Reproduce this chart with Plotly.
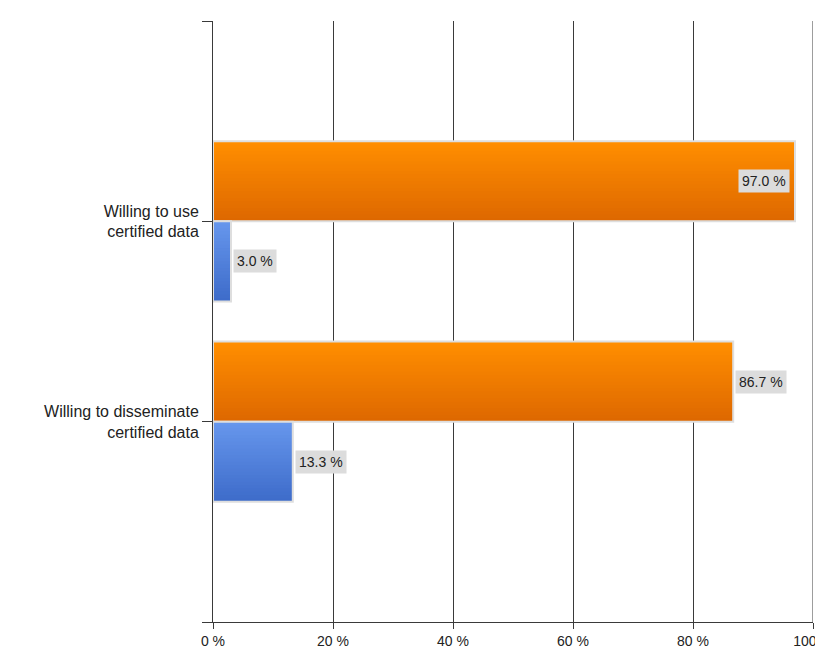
import plotly.graph_objects as go

# Survey results (percent of respondents)
categories = ["Willing to use<br>certified data", "Willing to disseminate<br>certified data"]
cat_pos = [2, 1]
yes_values = [97.0, 86.7]
no_values = [3.0, 13.3]
x_ticks = [0, 20, 40, 60, 80, 100]
x_tick_labels = ["0 %", "20 %", "40 %", "60 %", "80 %", "100 %"]

BAR_H = 0.4
N_LAYERS = 24
FONT = "Liberation Sans, Arial, sans-serif"
AXIS_COLOR = "#3a3a3a"


def lerp(c1, c2, t):
    return "rgb(%d,%d,%d)" % tuple(round(a + (b - a) * t) for a, b in zip(c1, c2))


def gradient_bars(values, base_offset, top_rgb, bottom_rgb, name):
    """Vertical gradient: stacked layers anchored at the bar top, each shorter and lighter."""
    traces = []
    for k in range(N_LAYERS):
        frac = 1 - k / N_LAYERS          # share of bar height covered by this layer
        t = 1 - k / (N_LAYERS - 1)       # 1 = bottom colour, 0 = top colour
        h = BAR_H * frac
        traces.append(go.Bar(
            y=cat_pos, x=values, orientation="h", name=name,
            width=h, offset=base_offset + BAR_H - h,
            marker=dict(color=lerp(top_rgb, bottom_rgb, t), line=dict(width=0)),
            showlegend=False, hoverinfo="skip",
        ))
    # light outline around each full bar
    traces.append(go.Bar(
        y=cat_pos, x=values, orientation="h", name=name,
        width=BAR_H, offset=base_offset,
        marker=dict(color="rgba(0,0,0,0)", line=dict(color="#dedede", width=2)),
        showlegend=False, hoverinfo="skip",
    ))
    return traces


fig = go.Figure()
for tr in gradient_bars(yes_values, 0.0, (255, 142, 0), (222, 104, 0), "Yes"):
    fig.add_trace(tr)
for tr in gradient_bars(no_values, -BAR_H, (102, 150, 236), (62, 108, 202), "No"):
    fig.add_trace(tr)

# Value labels in grey boxes; placed inside the bar end when there is no room outside
annotations = []
for vals, dy in ((yes_values, BAR_H / 2), (no_values, -BAR_H / 2)):
    for v, y in zip(vals, cat_pos):
        inside = v > 90
        annotations.append(dict(
            x=v, y=y + dy, xref="x", yref="y",
            text="%.1f %%" % v, showarrow=False,
            xanchor="right" if inside else "left",
            xshift=-5 if inside else 2,
            font=dict(family=FONT, size=14, color="#222222"),
            bgcolor="#dcdcdc", borderpad=3,
        ))

fig.update_layout(
    width=815, height=649,
    margin=dict(l=213, r=2, t=21, b=27),
    paper_bgcolor="white", plot_bgcolor="white",
    barmode="overlay",
    showlegend=False,
    annotations=annotations,
    font=dict(family=FONT, size=14, color="#222222"),
    shapes=[dict(
        type="line", xref="x", yref="paper",
        x0=x_ticks[-1], x1=x_ticks[-1], y0=0, y1=1,
        line=dict(color=AXIS_COLOR, width=1), layer="below",
    )],
)

fig.update_xaxes(
    range=[0, 100], tickvals=x_ticks, ticktext=x_tick_labels,
    tickfont=dict(size=14), ticklabeloverflow="allow",
    showgrid=True, gridcolor=AXIS_COLOR, gridwidth=1,
    showline=True, linecolor=AXIS_COLOR, linewidth=1,
    ticks="outside", ticklen=6, tickcolor=AXIS_COLOR,
    zeroline=False, automargin=False, fixedrange=True,
)
fig.update_yaxes(
    range=[0, 3], tickvals=[0] + cat_pos[::-1] + [3],
    ticktext=[""] + categories[::-1] + [""],
    showgrid=False, zeroline=False,
    showline=True, linecolor=AXIS_COLOR, linewidth=1,
    ticks="outside", ticklen=10, tickcolor=AXIS_COLOR,
    tickfont=dict(size=16), automargin=False, fixedrange=True,
)

fig.write_html("out.html")
